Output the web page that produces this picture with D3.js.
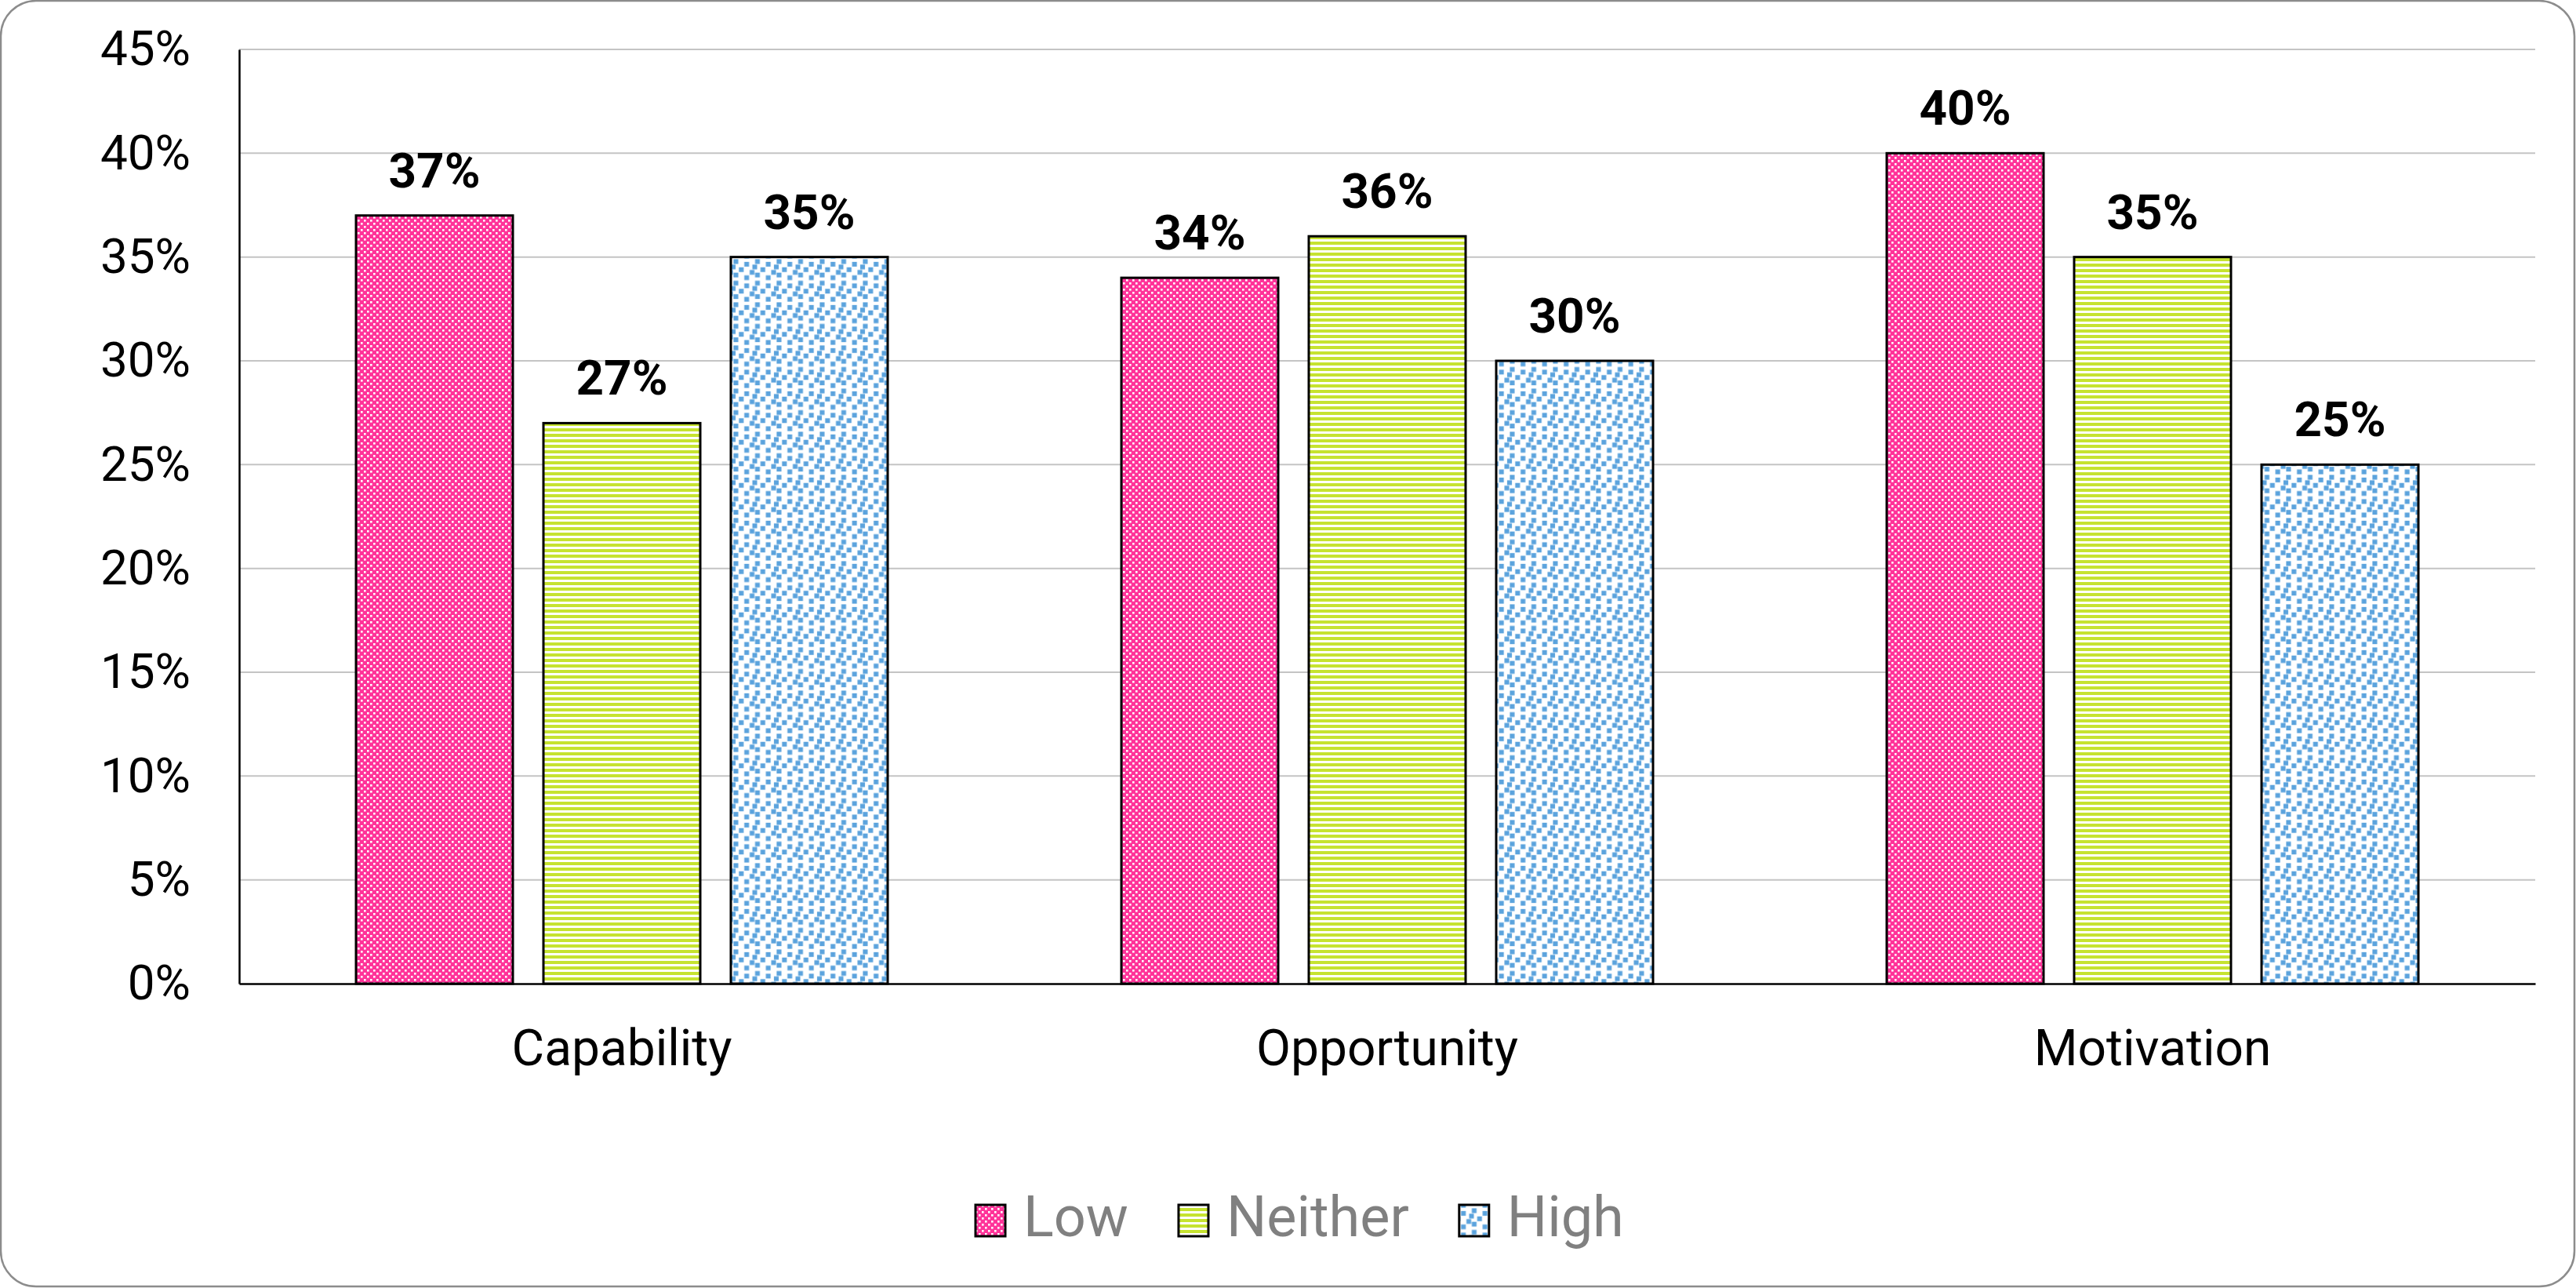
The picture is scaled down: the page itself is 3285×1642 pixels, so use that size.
<!DOCTYPE html>
<html>
<head>
<meta charset="utf-8">
<script src="https://cdn.jsdelivr.net/npm/d3@7"></script>
<style>
  html, body { margin: 0; padding: 0; background: #fff; }
  svg { display: block; font-family: Roboto, "Liberation Sans", sans-serif; }
</style>
</head>
<body>
<script>
// ---- data ----
const categories = ["Capability", "Opportunity", "Motivation"];
const seriesNames = ["Low", "Neither", "High"];
const lowValues = [0.37, 0.34, 0.40];
const neitherValues = [0.27, 0.36, 0.35];
const highValues = [0.35, 0.30, 0.25];
const yTicks = [0, 0.05, 0.10, 0.15, 0.20, 0.25, 0.30, 0.35, 0.40, 0.45];

const seriesValues = [lowValues, neitherValues, highValues];

// ---- layout ----
const W = 3285, H = 1642;
const plot = { left: 305, right: 3233, top: 63, bottom: 1254 };

const svg = d3.select("body").append("svg").attr("width", W).attr("height", H);

// patterns
const defs = svg.append("defs");
// Low: pink with white holes
const pLow = defs.append("pattern").attr("id", "pat-Low").attr("patternUnits", "userSpaceOnUse")
  .attr("width", 8).attr("height", 8);
pLow.append("rect").attr("width", 8).attr("height", 8).attr("fill", "#FF3399");
pLow.append("rect").attr("x", 0).attr("y", 0).attr("width", 2.6).attr("height", 2.6).attr("fill", "#fff");
pLow.append("rect").attr("x", 4).attr("y", 4).attr("width", 2.6).attr("height", 2.6).attr("fill", "#fff");
// Neither: green horizontal stripes
const pNei = defs.append("pattern").attr("id", "pat-Neither").attr("patternUnits", "userSpaceOnUse")
  .attr("width", 7).attr("height", 7);
pNei.append("rect").attr("width", 7).attr("height", 7).attr("fill", "#fff");
pNei.append("rect").attr("width", 7).attr("height", 4).attr("fill", "#C6E330");
// High: blue confetti
const tile = 27.5, cell = tile / 8;
const pHigh = defs.append("pattern").attr("id", "pat-High").attr("patternUnits", "userSpaceOnUse")
  .attr("width", tile).attr("height", tile);
pHigh.append("rect").attr("width", tile).attr("height", tile).attr("fill", "#fff");
const confetti = [[0,0],[4,1],[2,3],[6,4],[4,6],[0,5],[7,2]];
confetti.forEach(([cx, cy]) => {
  [[0,0],[-8,0],[0,-8],[-8,-8]].forEach(([ox, oy]) => {
    pHigh.append("rect").attr("x", (cx + ox) * cell + 0.4).attr("y", (cy + oy) * cell + 0.4)
      .attr("width", 2 * cell - 0.8).attr("height", 2 * cell - 0.8).attr("fill", "#5BA3DD");
  });
});

// outer rounded border
svg.append("rect").attr("x", 1).attr("y", 1).attr("width", W - 3).attr("height", H - 3)
  .attr("rx", 45).attr("ry", 45).attr("fill", "#fff").attr("stroke", "#8c8c8c").attr("stroke-width", 2.5);

// scales
const y = d3.scaleLinear().domain([0, 0.45]).range([plot.bottom, plot.top]);
const x0 = d3.scaleBand().domain(categories).range([plot.left, plot.right]).padding(0);
const groupW = 678;
const x1 = d3.scaleBand().domain(seriesNames).range([0, groupW]).paddingInner(39 / 239).paddingOuter(0);
const groupOffset = (x0.bandwidth() - groupW) / 2;

// gridlines
svg.append("g").selectAll("line").data(yTicks.filter(t => t > 0)).join("line")
  .attr("x1", plot.left).attr("x2", plot.right)
  .attr("y1", d => y(d)).attr("y2", d => y(d))
  .attr("stroke", "#c4c4c4").attr("stroke-width", 2);

// y axis
const yAxis = d3.axisLeft(y).tickValues(yTicks).tickFormat(d3.format(".0%")).tickSize(0).tickPadding(62);
const gy = svg.append("g").attr("transform", `translate(${plot.left},0)`).call(yAxis);
gy.select(".domain").attr("stroke", "#000").attr("stroke-width", 2.5);
gy.selectAll("text").attr("font-size", 62).attr("fill", "#000").attr("font-family", "Roboto").attr("dy", "0.32em");

// bars
const barData = [];
categories.forEach((c, ci) => {
  seriesNames.forEach((s, si) => barData.push({ cat: c, series: s, value: seriesValues[si][ci] }));
});

svg.append("g").selectAll("rect").data(barData).join("rect")
  .attr("x", d => x0(d.cat) + groupOffset + x1(d.series))
  .attr("y", d => y(d.value))
  .attr("width", x1.bandwidth())
  .attr("height", d => y(0) - y(d.value))
  .attr("fill", d => `url(#pat-${d.series})`)
  .attr("stroke", "#000").attr("stroke-width", 3);

// data labels
svg.append("g").selectAll("text").data(barData).join("text")
  .attr("x", d => x0(d.cat) + groupOffset + x1(d.series) + x1.bandwidth() / 2)
  .attr("y", d => y(d.value) - 36)
  .attr("text-anchor", "middle")
  .attr("font-size", 62).attr("font-weight", "bold").attr("fill", "#000")
  .text(d => d3.format(".0%")(d.value));

// x axis
const xAxis = d3.axisBottom(x0).tickSize(0).tickPadding(0);
const gx = svg.append("g").attr("transform", `translate(0,${plot.bottom})`).call(xAxis);
gx.select(".domain").attr("stroke", "#000").attr("stroke-width", 2.5);
gx.selectAll("text").attr("font-size", 64).attr("fill", "#000").attr("font-family", "Roboto")
  .attr("dy", null).attr("y", 104);

// legend
const legend = svg.append("g").attr("transform", "translate(1244,0)");
let lx = 0;
seriesNames.forEach(s => {
  legend.append("rect").attr("x", lx).attr("y", 1536).attr("width", 38).attr("height", 40)
    .attr("fill", `url(#pat-${s})`).attr("stroke", "#000").attr("stroke-width", 3);
  const t = legend.append("text").attr("x", lx + 61).attr("y", 1576)
    .attr("font-size", 72).attr("font-family", "Roboto").attr("fill", "#808080").text(s);
  lx += 61 + t.node().getComputedTextLength() + 64;
});
</script>
</body>
</html>
